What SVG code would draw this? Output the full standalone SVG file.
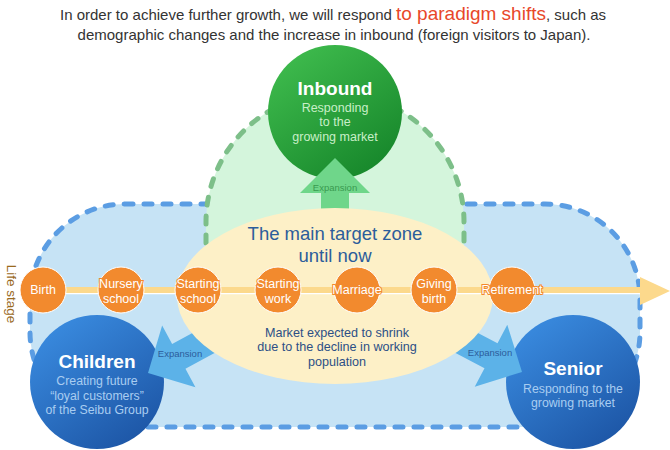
<svg xmlns="http://www.w3.org/2000/svg" width="670" height="450" viewBox="0 0 670 450">
<defs>
<style>
text{font-family:"Liberation Sans",Arial,sans-serif}
.hdr{font-size:15px;fill:#333}
.red{font-size:19px;fill:#e8472a}
.big{font-size:19px;font-weight:bold;fill:#fff}
.sub-g{font-size:12.5px;fill:#c8efc8}
.sub-b{font-size:12.3px;fill:#a9cdf1}
.st{fill:#f28a2e;stroke:#fff;stroke-width:1}
.stl{font-size:12.5px;fill:#fff;stroke:#f28a2e;stroke-width:2;paint-order:stroke;text-anchor:middle}
.exp{font-size:9.5px;text-anchor:middle}
.tz{font-size:18.5px;fill:#2c5d9b;text-anchor:middle}
.mk{font-size:12.6px;fill:#2c4f86;text-anchor:middle}
.arr-b{fill:#5cb2e8}
.arr-g{fill:#6fd68a}
</style>
<linearGradient id="gg" x1="0.2" y1="0.1" x2="0.8" y2="0.95">
<stop offset="0" stop-color="#3cb84b"/><stop offset="1" stop-color="#17872b"/>
</linearGradient>
<linearGradient id="gb" x1="0.2" y1="0.1" x2="0.8" y2="0.95">
<stop offset="0" stop-color="#3888dc"/><stop offset="1" stop-color="#1d56a6"/>
</linearGradient>
<path id="arrowShape" d="M0,0 L-35,-35 L-35,-14 L-110,-14 L-110,14 L-35,14 L-35,35 Z"/>
</defs>

<rect width="670" height="450" fill="#fff"/>

<g id="header">
<text x="333" y="20" text-anchor="middle" class="hdr">In order to achieve further growth, we will respond <tspan class="red">to paradigm shifts</tspan>, such as</text>
<text x="334" y="40" text-anchor="middle" class="hdr">demographic changes and the increase in inbound (foreign visitors to Japan).</text>
</g>

<g id="zone-lifestage">
<rect x="30" y="204" width="610" height="223" rx="95" ry="95" fill="#c6e3f5" stroke="#5b9de3" stroke-width="5" stroke-dasharray="8 11" stroke-linecap="round"/>
</g>
<g id="zone-inbound">
<path d="M206,222 A129,129 0 0 1 464,222 L464,300 L206,300 Z" fill="#d4f5dc"/>
<path d="M206,300 L206,222 A129,129 0 0 1 464,222 L464,300" fill="none" stroke="#7dbf89" stroke-width="5" stroke-dasharray="8 11" stroke-linecap="round"/>
</g>

<g id="inbound">
<circle cx="335" cy="112" r="67" fill="url(#gg)"/>
<text x="335" y="95" text-anchor="middle" class="big">Inbound</text>
<text x="335" y="112" text-anchor="middle" class="sub-g">Responding</text>
<text x="335" y="126" text-anchor="middle" class="sub-g">to the</text>
<text x="335" y="141" text-anchor="middle" class="sub-g">growing market</text>
</g>

<g id="children">
<circle cx="97" cy="382" r="67" fill="url(#gb)"/>
<text x="97" y="368" text-anchor="middle" class="big">Children</text>
<text x="97" y="385" text-anchor="middle" class="sub-b">Creating future</text>
<text x="97" y="400" text-anchor="middle" class="sub-b">“loyal customers”</text>
<text x="97" y="414" text-anchor="middle" class="sub-b">of the Seibu Group</text>
</g>

<g id="senior">
<circle cx="573" cy="382" r="67" fill="url(#gb)"/>
<text x="573" y="375" text-anchor="middle" class="big">Senior</text>
<text x="573" y="393" text-anchor="middle" class="sub-b">Responding to the</text>
<text x="573" y="407" text-anchor="middle" class="sub-b">growing market</text>
</g>

<g id="connectors">
<use href="#arrowShape" class="arr-g" transform="translate(335,158) rotate(-90)"/>
<use href="#arrowShape" class="arr-b" transform="translate(148,373) rotate(151.6)"/>
<use href="#arrowShape" class="arr-b" transform="translate(522,372) rotate(27.7)"/>
</g>

<g id="target-zone">
<ellipse cx="335" cy="296" rx="158" ry="88" fill="#fdf0c7"/>
<text x="335" y="240" class="tz">The main target zone</text>
<text x="335" y="262" class="tz">until now</text>
<text x="337" y="337" class="mk">Market expected to shrink</text>
<text x="337" y="351" class="mk">due to the decline in working</text>
<text x="337" y="366" class="mk">population</text>
</g>

<g id="expansion-labels">
<text x="335" y="191" class="exp" fill="#3a9a50">Expansion</text>
<text x="180" y="357" class="exp" fill="#2c5d9b">Expansion</text>
<text x="490" y="356" class="exp" fill="#2c5d9b">Expansion</text>
</g>

<g id="life-line">
<line x1="43" y1="293.5" x2="640" y2="293.5" stroke="#fff" stroke-width="1.5"/>
<line x1="43" y1="290" x2="641" y2="290" stroke="#fcd98c" stroke-width="6"/>
<polygon points="640,277 670,291 640,305" fill="#fcd98c"/>
<text transform="translate(7,294) rotate(90)" text-anchor="middle" font-size="13.5" fill="#9a6a1e">Life stage</text>
</g>

<g id="stage-birth"><circle class="st" cx="43" cy="290" r="23"/><text x="43" y="294" class="stl">Birth</text></g>
<g id="stage-nursery"><circle class="st" cx="121" cy="290" r="23"/><text x="121" y="288" class="stl">Nursery</text><text x="121" y="303" class="stl">school</text></g>
<g id="stage-school"><circle class="st" cx="198" cy="290" r="23"/><text x="198" y="288" class="stl">Starting</text><text x="198" y="303" class="stl">school</text></g>
<g id="stage-work"><circle class="st" cx="278" cy="290" r="23"/><text x="278" y="288" class="stl">Starting</text><text x="278" y="303" class="stl">work</text></g>
<g id="stage-marriage"><circle class="st" cx="357" cy="290" r="23"/><text x="357" y="294" class="stl">Marriage</text></g>
<g id="stage-giving"><circle class="st" cx="434" cy="290" r="23"/><text x="434" y="288" class="stl">Giving</text><text x="434" y="303" class="stl">birth</text></g>
<g id="stage-retirement"><circle class="st" cx="512" cy="290" r="23"/><text x="512" y="294" class="stl">Retirement</text></g>
</svg>
